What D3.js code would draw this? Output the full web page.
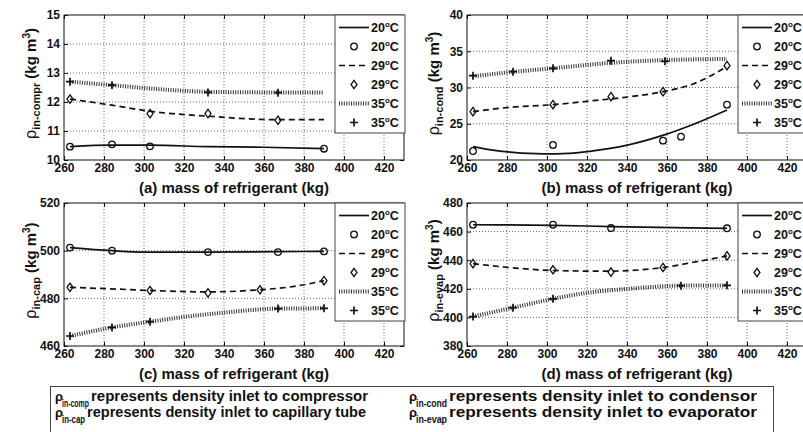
<!DOCTYPE html>
<html>
<head>
<meta charset="utf-8">
<script src="https://cdn.jsdelivr.net/npm/d3@7"></script>
<style>
	body { margin: 0; background: #fff; }
	text { font-family: "Liberation Sans", Arial, sans-serif; font-weight: bold; fill: #111; }
</style>
</head>
<body>
<div id="vis"></div>
<script>
const width = 803;
const height = 432;

// shared x axis
const massDomain = [260, 430];
const massTicks = [260, 280, 300, 320, 340, 360, 380, 400, 420];
const temps = ["20", "29", "35"];

// (a) inlet to compressor
const a20Mass = [263, 284, 303, 390];
const a20Rho = [10.46, 10.54, 10.47, 10.39];
const a20FitMass = [263, 284, 303, 332, 360, 390];
const a20FitRho = [10.46, 10.51, 10.51, 10.46, 10.44, 10.39];
const a29Mass = [263, 303, 332, 367];
const a29Rho = [12.10, 11.60, 11.60, 11.37];
const a29FitMass = [263, 284, 303, 332, 367, 390];
const a29FitRho = [12.10, 11.89, 11.68, 11.51, 11.39, 11.39];
const a35Mass = [263, 284, 332, 367];
const a35Rho = [12.70, 12.58, 12.33, 12.32];
const a35FitMass = [263, 284, 308, 332, 367, 390];
const a35FitRho = [12.70, 12.58, 12.44, 12.35, 12.33, 12.33];
const aTicks = [10, 11, 12, 13, 14, 15];

// (b) inlet to condenser
const b20Mass = [263, 303, 358, 367, 390];
const b20Rho = [21.24, 22.07, 22.67, 23.22, 27.63];
const b20FitMass = [263, 272, 283, 298, 311, 323, 339, 359, 373, 390];
const b20FitRho = [21.84, 21.40, 21.05, 20.85, 20.92, 21.25, 21.98, 23.50, 24.90, 26.90];
const b29Mass = [263, 303, 332, 358, 390];
const b29Rho = [26.67, 27.63, 28.74, 29.43, 33.01];
const b29FitMass = [263, 281, 303, 323, 339, 358, 373, 390];
const b29FitRho = [26.67, 27.26, 27.63, 28.18, 28.64, 29.43, 30.48, 32.87];
const b35Mass = [263, 283, 303, 332, 359];
const b35Rho = [31.63, 32.18, 32.64, 33.70, 33.61];
const b35FitMass = [263, 283, 303, 332, 359, 390];
const b35FitRho = [31.55, 32.15, 32.65, 33.40, 33.78, 33.93];
const bTicks = [20, 25, 30, 35, 40];

// (c) inlet to capillary tube
const c20Mass = [263, 284, 332, 367, 390];
const c20Rho = [501.3, 500.0, 499.4, 499.4, 499.7];
const c20FitMass = [263, 284, 300, 332, 367, 390];
const c20FitRho = [501.3, 500.0, 499.4, 499.4, 499.6, 499.7];
const c29Mass = [263, 303, 332, 358, 390];
const c29Rho = [484.6, 483.3, 482.3, 483.6, 487.4];
const c29FitMass = [263, 283, 303, 332, 358, 375, 390];
const c29FitRho = [484.6, 484.0, 483.3, 482.7, 483.6, 485.0, 487.4];
const c35Mass = [263, 284, 303, 367, 390];
const c35Rho = [464.2, 467.8, 470.2, 475.7, 475.8];
const c35FitMass = [263, 284, 303, 325, 341, 367, 390];
const c35FitRho = [464.2, 467.8, 470.2, 472.7, 474.1, 475.7, 475.8];
const cTicks = [460, 480, 500, 520];

// (d) inlet to evaporator
const d20Mass = [263, 303, 332, 390];
const d20Rho = [464.8, 464.8, 462.5, 462.3];
const d20FitMass = [263, 303, 332, 390];
const d20FitRho = [464.8, 464.4, 463.5, 462.3];
const d29Mass = [263, 303, 332, 358, 390];
const d29Rho = [437.6, 433.3, 431.7, 434.9, 443.0];
const d29FitMass = [263, 281, 303, 322, 332, 358, 375, 390];
const d29FitRho = [437.6, 434.9, 432.8, 432.4, 432.4, 434.9, 439.0, 443.0];
const d35Mass = [263, 283, 303, 367, 390];
const d35Rho = [400.6, 406.8, 413.0, 422.2, 422.4];
const d35FitMass = [263, 283, 303, 322, 340, 367, 390];
const d35FitRho = [400.6, 406.8, 413.0, 417.6, 419.9, 422.2, 422.4];
const dTicks = [380, 400, 420, 440, 460, 480];

// note under the plots (order: left column top/bottom, right column top/bottom)
const noteSubs = ["in-comp", "in-cap", "in-cond", "in-evap"];
const noteTexts = [
	"represents density inlet to compressor",
	"represents density inlet to capillary tube",
	"represents density inlet to condensor",
	"represents density inlet to evaporator"
];

const zip = (xs, ys) => xs.map((x, i) => [x, ys[i]]);

const panels = [
	{ id: "a", left: 64, top: 15, bottom: 160, ticks: aTicks, sub: "in-compr", label: "(a) mass of refrigerant (kg)",
		fits: [zip(a20FitMass, a20FitRho), zip(a29FitMass, a29FitRho), zip(a35FitMass, a35FitRho)],
		pts: [zip(a20Mass, a20Rho), zip(a29Mass, a29Rho), zip(a35Mass, a35Rho)] },
	{ id: "b", left: 467, top: 15, bottom: 160, ticks: bTicks, sub: "in-cond", label: "(b) mass of refrigerant (kg)",
		fits: [zip(b20FitMass, b20FitRho), zip(b29FitMass, b29FitRho), zip(b35FitMass, b35FitRho)],
		pts: [zip(b20Mass, b20Rho), zip(b29Mass, b29Rho), zip(b35Mass, b35Rho)] },
	{ id: "c", left: 64, top: 203, bottom: 346, ticks: cTicks, sub: "in-cap", label: "(c) mass of refrigerant (kg)",
		fits: [zip(c20FitMass, c20FitRho), zip(c29FitMass, c29FitRho), zip(c35FitMass, c35FitRho)],
		pts: [zip(c20Mass, c20Rho), zip(c29Mass, c29Rho), zip(c35Mass, c35Rho)] },
	{ id: "d", left: 467, top: 203, bottom: 346, ticks: dTicks, sub: "in-evap", label: "(d) mass of refrigerant (kg)",
		fits: [zip(d20FitMass, d20FitRho), zip(d29FitMass, d29FitRho), zip(d35FitMass, d35FitRho)],
		pts: [zip(d20Mass, d20Rho), zip(d29Mass, d29Rho), zip(d35Mass, d35Rho)] }
];

const lineStyles = [
	{ stroke: "#111", width: 1.7, dash: null },
	{ stroke: "#111", width: 1.7, dash: "6,4" },
	{ stroke: "#333", width: 4, dash: "1,1.4" }
];

const markerPaths = [
	d3.symbol(d3.symbolCircle, 34)(),
	"M0,-4.2L3,0L0,4.2L-3,0Z",
	"M-4,0H4M0,-4V4"
];

const svg = d3.select("#vis")
	.append("svg")
		.attr("width", width)
		.attr("height", height);

svg.append("rect").attr("width", width).attr("height", height).attr("fill", "#fff");

function addTemp (sel, t) {
	sel.append("tspan").text(t);
	sel.append("tspan").attr("dy", -5).attr("font-size", 8).text("o");
	sel.append("tspan").attr("dy", 5).text("C");
}

function drawPanel (p) {
	const right = p.left + 340;
	const x = d3.scaleLinear().domain(massDomain).range([p.left, right]);
	const y = d3.scaleLinear().domain(d3.extent(p.ticks)).range([p.bottom, p.top]);
	const g = svg.append("g");

	g.append("clipPath").attr("id", "clip-" + p.id)
		.append("rect")
			.attr("x", p.left).attr("y", p.top)
			.attr("width", right - p.left).attr("height", p.bottom - p.top);

	// dotted grid
	g.selectAll("line.vgrid")
		.data(massTicks.slice(1))
		.join("line")
			.attr("x1", d => x(d)).attr("x2", d => x(d))
			.attr("y1", p.top).attr("y2", p.bottom)
			.attr("stroke", "#666").attr("stroke-dasharray", "1,2");
	g.selectAll("line.hgrid")
		.data(p.ticks.slice(1, -1))
		.join("line")
			.attr("x1", p.left).attr("x2", right)
			.attr("y1", d => y(d)).attr("y2", d => y(d))
			.attr("stroke", "#666").attr("stroke-dasharray", "1,2");

	// axes, ticks inside like matlab
	const xAxis = g.append("g")
		.attr("transform", `translate(0,${p.bottom})`)
		.call(d3.axisBottom(x).tickValues(massTicks).tickSize(-4).tickPadding(3));
	g.append("g")
		.attr("transform", `translate(0,${p.top})`)
		.call(d3.axisTop(x).tickValues(massTicks).tickSize(-4).tickFormat(""));
	const yAxis = g.append("g")
		.attr("transform", `translate(${p.left},0)`)
		.call(d3.axisLeft(y).tickValues(p.ticks).tickFormat(d3.format("d")).tickSize(-4).tickPadding(4));
	g.append("g")
		.attr("transform", `translate(${right},0)`)
		.call(d3.axisRight(y).tickValues(p.ticks).tickSize(-4).tickFormat(""));
	g.selectAll(".domain").remove();
	g.selectAll(".tick line").attr("stroke", "#111");
	[xAxis, yAxis].forEach(ax => ax
		.attr("font-family", null).attr("font-size", 12)
		.selectAll("text").attr("fill", "#111"));

	g.append("rect")
		.attr("x", p.left).attr("y", p.top)
		.attr("width", right - p.left).attr("height", p.bottom - p.top)
		.attr("fill", "none").attr("stroke", "#111");

	// fitted curves
	const line = d3.line()
		.x(d => x(d[0]))
		.y(d => y(d[1]))
		.curve(d3.curveMonotoneX);
	const plot = g.append("g").attr("clip-path", `url(#clip-${p.id})`);
	p.fits.forEach((f, i) => {
		plot.append("path")
			.attr("d", line(f))
			.attr("fill", "none")
			.attr("stroke", lineStyles[i].stroke)
			.attr("stroke-width", lineStyles[i].width)
			.attr("stroke-dasharray", lineStyles[i].dash);
	});
	// measured points
	p.pts.forEach((pts, i) => {
		plot.selectAll(null)
			.data(pts)
			.join("path")
				.attr("transform", d => `translate(${x(d[0])},${y(d[1])})`)
				.attr("d", markerPaths[i])
				.attr("fill", "none")
				.attr("stroke", "#111")
				.attr("stroke-width", i == 2 ? 1.7 : 1.3);
	});

	// legend
	const lx = x(400) - 9;
	const leg = g.append("g");
	leg.append("rect")
		.attr("x", lx).attr("y", p.top)
		.attr("width", 70).attr("height", 118)
		.attr("fill", "#fff").attr("stroke", "#444");
	temps.forEach((t, i) => {
		const rl = p.top + 12.5 + (2 * i) * 19;
		const rm = rl + 19;
		leg.append("line")
			.attr("x1", lx + 4).attr("x2", lx + 34)
			.attr("y1", rl).attr("y2", rl)
			.attr("stroke", lineStyles[i].stroke)
			.attr("stroke-width", lineStyles[i].width)
			.attr("stroke-dasharray", lineStyles[i].dash);
		leg.append("path")
			.attr("transform", `translate(${lx + 19},${rm})`)
			.attr("d", markerPaths[i])
			.attr("fill", "none").attr("stroke", "#111")
			.attr("stroke-width", i == 2 ? 1.7 : 1.3);
		[rl, rm].forEach(ry => {
			leg.append("text")
				.attr("x", lx + 36).attr("y", ry + 4.5)
				.attr("font-size", 12.5)
				.call(addTemp, t);
		});
	});

	// axis labels
	g.append("text")
		.attr("x", (p.left + right) / 2)
		.attr("y", p.bottom + 32.5)
		.attr("text-anchor", "middle")
		.attr("font-size", 15)
		.text(p.label);

	const yl = g.append("text")
		.attr("transform", `translate(${p.left - 28},${(p.top + p.bottom) / 2 - 4}) rotate(-90)`)
		.attr("text-anchor", "middle")
		.attr("font-size", 15);
	yl.append("tspan").attr("font-weight", "normal").attr("font-size", 16).text("ρ");
	yl.append("tspan").attr("dy", 4).attr("font-size", 11).text(p.sub);
	yl.append("tspan").attr("dy", -4).text(" (kg m");
	yl.append("tspan").attr("dy", -6).attr("font-size", 10).text("3");
	yl.append("tspan").attr("dy", 6).text(")");
}

panels.forEach(drawPanel);

// note box
svg.append("rect")
	.attr("x", 50.5).attr("y", 386.5)
	.attr("width", 723).attr("height", 60)
	.attr("fill", "none").attr("stroke", "#444");

// narrow typeface in the original: squeeze text to the widths seen there
const noteX = [55, 409];
const noteMainX = [[91, 87], [449, 449]];
const noteMainEnd = [[368, 366], [757, 757]];
noteTexts.forEach((t, i) => {
	const col = Math.floor(i / 2), row = i % 2;
	const yb = 401 + row * 16;
	svg.append("text")
		.attr("x", noteX[col]).attr("y", yb)
		.attr("font-weight", "normal").attr("font-size", 13)
		.text("ρ");
	svg.append("text")
		.attr("x", noteX[col] + 7).attr("y", yb + 6)
		.attr("font-size", 11.5)
		.attr("textLength", noteMainX[col][row] - noteX[col] - 9)
		.attr("lengthAdjust", "spacingAndGlyphs")
		.text(noteSubs[i]);
	svg.append("text")
		.attr("x", noteMainX[col][row]).attr("y", yb)
		.attr("font-size", 14.5)
		.attr("textLength", noteMainEnd[col][row] - noteMainX[col][row])
		.attr("lengthAdjust", "spacingAndGlyphs")
		.text(t);
});
</script>
</body>
</html>
